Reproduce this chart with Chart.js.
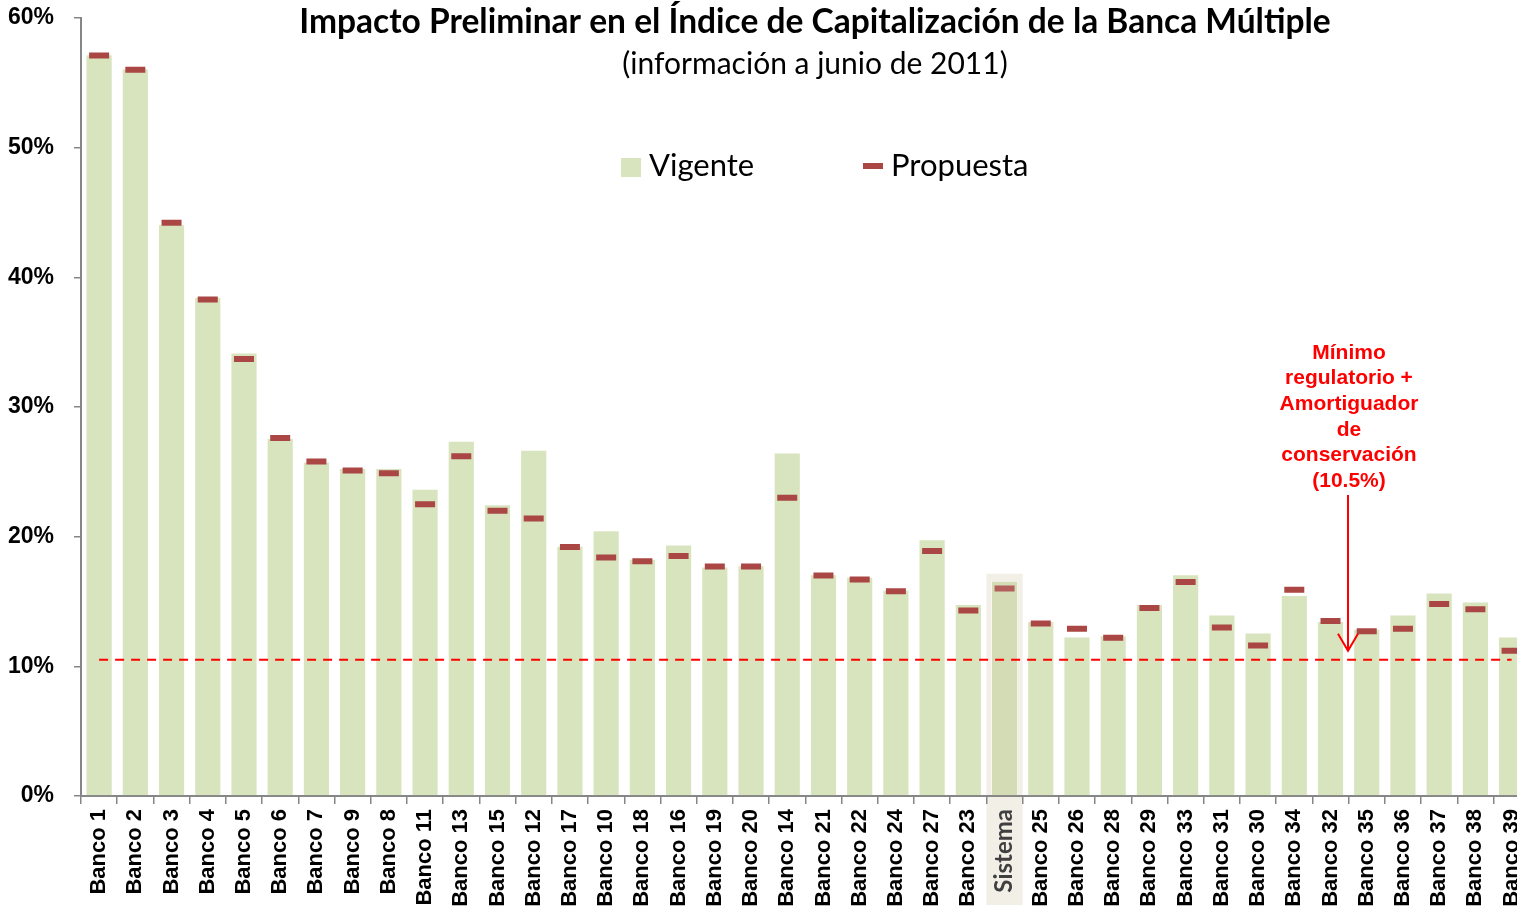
<!DOCTYPE html>
<html>
<head>
<meta charset="utf-8">
<script src="https://cdn.jsdelivr.net/npm/chart.js@4.4.0/dist/chart.umd.min.js"></script>
<style>
    html, body { margin: 0; padding: 0; background: #fff; overflow: hidden; }
    #wrap { width: 1543px; height: 913px; }
</style>
</head>
<body>
<div id="wrap"><canvas id="capital" width="1543" height="913"></canvas></div>
<script>
const categories = ['Banco 1', 'Banco 2', 'Banco 3', 'Banco 4', 'Banco 5', 'Banco 6', 'Banco 7', 'Banco 9', 'Banco 8', 'Banco 11',
    'Banco 13', 'Banco 15', 'Banco 12', 'Banco 17', 'Banco 10', 'Banco 18', 'Banco 16', 'Banco 19', 'Banco 20', 'Banco 14',
    'Banco 21', 'Banco 22', 'Banco 24', 'Banco 27', 'Banco 23', 'Sistema', 'Banco 25', 'Banco 26', 'Banco 28', 'Banco 29',
    'Banco 33', 'Banco 31', 'Banco 30', 'Banco 34', 'Banco 32', 'Banco 35', 'Banco 36', 'Banco 37', 'Banco 38', 'Banco 39'];

const vigente = [57.2, 56.1, 44.1, 38.5, 34.2, 27.6, 25.8, 25.3, 25.3, 23.7,
    27.4, 22.5, 26.7, 19.3, 20.5, 18.3, 19.4, 17.7, 17.8, 26.5,
    17.1, 16.9, 15.9, 19.8, 14.8, 16.6, 13.5, 12.3, 12.4, 14.8,
    17.1, 14.0, 12.6, 15.5, 13.5, 12.9, 14.0, 15.7, 15.0, 12.3];

const propuesta = [57.1, 56.0, 44.2, 38.3, 33.7, 27.6, 25.8, 25.1, 24.9, 22.5,
    26.2, 22.0, 21.4, 19.2, 18.4, 18.1, 18.5, 17.7, 17.7, 23.0,
    17.0, 16.7, 15.8, 18.9, 14.3, 16.0, 13.3, 12.9, 12.2, 14.5,
    16.5, 13.0, 11.6, 15.9, 13.5, 12.7, 12.9, 14.8, 14.4, 11.2];

const minimo = 10.5;
const yTicks = [0, 10, 20, 30, 40, 50, 60];

const titleText = 'Impacto Preliminar en el Índice de Capitalización de la Banca Múltiple';
const subtitleText = '(información a junio de 2011)';
const noteLines = ['Mínimo', 'regulatorio +', 'Amortiguador', 'de', 'conservación', '(10.5%)'];

const GREEN = '#d7e4bd';
const DARKRED = '#aa4643';
const sysIdx = categories.indexOf('Sistema');

// beige box behind "Sistema" (drawn before axes so the label sits on top)
const sistemaBox = {
    id: 'sistemaBox',
    beforeDraw(chart) {
        const x = chart.scales.x, y = chart.scales.y;
        const cx = x.getPixelForValue(sysIdx);
        const half = (x.getPixelForValue(1) - x.getPixelForValue(0)) / 2;
        const ctx = chart.ctx;
        ctx.save();
        ctx.fillStyle = '#f2efe6';
        const top = y.getPixelForValue(vigente[sysIdx]) - 7;
        ctx.fillRect(cx - half, top, half * 2, 905 - top);
        ctx.restore();
    }
};

// title, legend and note drawn on top of the plot (like the original)
const overlay = {
    id: 'overlay',
    afterDraw(chart) {
        const ctx = chart.ctx;
        const y = chart.scales.y;
        ctx.save();
        ctx.fillStyle = '#000';
        ctx.textAlign = 'center';
        ctx.textBaseline = 'middle';
        ctx.font = 'bold 33.5px Lato';
        ctx.fillText(titleText, 815, 22);
        ctx.font = '30px Lato';
        ctx.fillText(subtitleText, 815, 64);

        // legend
        ctx.fillStyle = GREEN;
        ctx.fillRect(621, 158, 20, 19);
        ctx.fillStyle = DARKRED;
        ctx.fillRect(863, 163, 20, 6);
        ctx.fillStyle = '#000';
        ctx.textAlign = 'left';
        ctx.font = '31px Lato';
        ctx.fillText('Vigente', 649, 166);
        ctx.fillText('Propuesta', 891, 166);

        // note + arrow
        ctx.fillStyle = '#ff0000';
        ctx.textAlign = 'center';
        ctx.font = 'bold 21px "Liberation Sans"';
        noteLines.forEach((l, i) => ctx.fillText(l, 1349, 353 + i * 25.6));
        const ax = 1348;
        const tip = y.getPixelForValue(minimo) - 9;
        ctx.strokeStyle = '#ff0000';
        ctx.lineWidth = 2;
        ctx.beginPath();
        ctx.moveTo(ax, 495);
        ctx.lineTo(ax, tip);
        ctx.moveTo(ax - 10, tip - 17);
        ctx.lineTo(ax, tip);
        ctx.lineTo(ax + 10, tip - 17);
        ctx.stroke();
        ctx.restore();
    }
};

const chart = new Chart(
    document.getElementById('capital'),
    {
        type: 'bar',
        data: {
            labels: categories,
            datasets: [
                {
                    type: 'line',
                    label: 'Propuesta',
                    data: propuesta,
                    showLine: false,
                    pointStyle: 'line',
                    pointRadius: 10,
                    pointHoverRadius: 10,
                    pointBorderWidth: 6,
                    pointBorderColor: ctx => ctx.dataIndex === sysIdx ? '#b35f5c' : DARKRED,
                    order: 0
                },
                {
                    type: 'line',
                    label: 'Mínimo',
                    data: categories.map(() => minimo),
                    borderColor: '#ff0000',
                    borderWidth: 2,
                    borderDash: [9, 7],
                    pointRadius: 0,
                    order: 1
                },
                {
                    label: 'Vigente',
                    data: vigente,
                    backgroundColor: ctx => ctx.dataIndex === sysIdx ? '#d3dcb4' : GREEN,
                    borderColor: 'rgba(255,255,255,0.6)',
                    borderWidth: 1,
                    barPercentage: 0.75,
                    categoryPercentage: 1,
                    order: 2
                }
            ]
        },
        options: {
            responsive: false,
            animation: false,
            layout: { autoPadding: false, padding: { top: 18, right: 0, left: 0, bottom: 0 } },
            plugins: {
                legend: { display: false },
                tooltip: { enabled: false }
            },
            scales: {
                x: {
                    afterFit: s => { s.height = 117; },
                    grid: { drawOnChartArea: false, tickLength: 8, color: '#868686', lineWidth: 1.5 },
                    border: { color: '#868686', width: 2 },
                    ticks: {
                        autoSkip: false,
                        minRotation: 90,
                        maxRotation: 90,
                        padding: 5,
                        color: ctx => ctx.index === sysIdx ? '#404040' : '#000',
                        font: ctx => ctx.index === sysIdx
                            ? { family: 'Lato', size: 24, weight: 'bold' }
                            : { family: 'Liberation Sans', size: 22, weight: 'bold' }
                    }
                },
                y: {
                    min: 0,
                    max: 60,
                    afterFit: s => { s.width = 81; s.paddingTop = 0; s.paddingBottom = 0; },
                    afterBuildTicks: s => { s.ticks = yTicks.map(v => ({ value: v })); },
                    grid: { drawOnChartArea: false, tickLength: 7, color: '#868686', lineWidth: 1.5 },
                    border: { color: '#868686', width: 2 },
                    ticks: {
                        padding: 20,
                        color: '#000',
                        font: { family: 'Liberation Sans', size: 23, weight: 'bold' },
                        callback: v => v + '%'
                    }
                }
            }
        },
        plugins: [sistemaBox, overlay]
    }
);
</script>
</body>
</html>
